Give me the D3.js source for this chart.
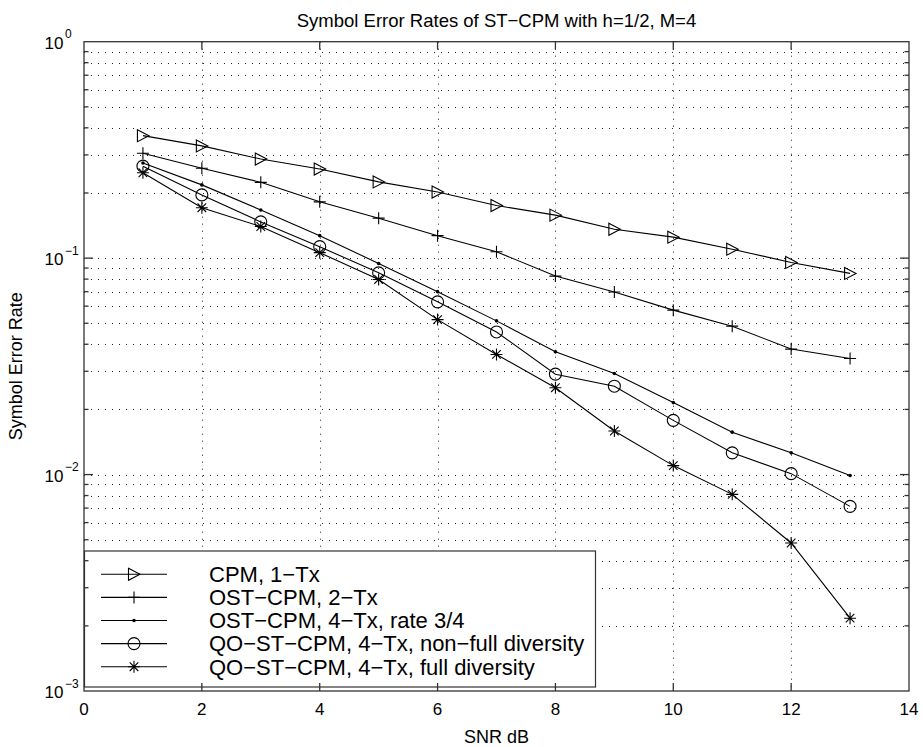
<!DOCTYPE html>
<html>
<head>
<meta charset="utf-8">
<script src="https://cdn.jsdelivr.net/npm/d3@7"></script>
<style>
  body { margin: 0; background: #fff; }
  text { font-family: "Liberation Sans", Arial, Helvetica, sans-serif; fill: #000; }
</style>
</head>
<body>
<script>
// data
const snr = [1, 2, 3, 4, 5, 6, 7, 8, 9, 10, 11, 12, 13];
const cpm1Tx   = [0.368, 0.330, 0.287, 0.258, 0.225, 0.202, 0.175, 0.158, 0.136, 0.125, 0.110, 0.0955, 0.085];
const ost2Tx   = [0.305, 0.260, 0.224, 0.182, 0.153, 0.127, 0.107, 0.0826, 0.0697, 0.0575, 0.0485, 0.0380, 0.0344];
const ost4Tx   = [0.275, 0.218, 0.167, 0.127, 0.0945, 0.070, 0.0513, 0.0369, 0.0293, 0.0215, 0.0157, 0.0126, 0.0099];
const qoNonFull = [0.266, 0.196, 0.147, 0.113, 0.0855, 0.0628, 0.0456, 0.0291, 0.0256, 0.0178, 0.0126, 0.0101, 0.00713];
const qoFull   = [0.248, 0.171, 0.140, 0.106, 0.0797, 0.052, 0.0359, 0.0252, 0.0159, 0.0110, 0.0081, 0.00483, 0.00217];

const seriesNames = [
  "CPM, 1\u2212Tx",
  "OST\u2212CPM, 2\u2212Tx",
  "OST\u2212CPM, 4\u2212Tx, rate 3/4",
  "QO\u2212ST\u2212CPM, 4\u2212Tx, non\u2212full diversity",
  "QO\u2212ST\u2212CPM, 4\u2212Tx, full diversity"
];
const seriesValues = [cpm1Tx, ost2Tx, ost4Tx, qoNonFull, qoFull];
const markerTypes = ["triangle", "plus", "dot", "circle", "star"];

const xTicks = [0, 2, 4, 6, 8, 10, 12, 14];
const yDecades = [1, 0.1, 0.01, 0.001];
const yExponents = ["0", "\u22121", "\u22122", "\u22123"];

const width = 923, height = 747;
const plotLeft = 84, plotRight = 909, plotTop = 41.7, plotBottom = 691;

const svg = d3.select("body").append("svg")
  .attr("width", width)
  .attr("height", height);

const x = d3.scaleLinear().domain([0, 14]).range([plotLeft, plotRight]);
const y = d3.scaleLog().domain([0.001, 1]).range([plotBottom, plotTop]);

// minor log positions 2..9 in each decade plus inner decades
const minorY = [];
[0.001, 0.01, 0.1].forEach(d => {
  for (let k = 2; k <= 9; k++) minorY.push(k * d);
});
const innerDecades = [0.1, 0.01];

// grid
const grid = svg.append("g")
  .attr("stroke", "#222")
  .attr("stroke-width", 1)
  .attr("stroke-dasharray", "1,6");

grid.selectAll(".vg")
  .data(xTicks.slice(1, -1))
  .enter().append("line")
  .attr("x1", d => Math.round(x(d)) + 0.5).attr("x2", d => Math.round(x(d)) + 0.5)
  .attr("y1", plotTop).attr("y2", plotBottom);

grid.selectAll(".hg")
  .data(minorY.concat(innerDecades))
  .enter().append("line")
  .attr("x1", plotLeft).attr("x2", plotRight)
  .attr("y1", d => Math.round(y(d)) + 0.5).attr("y2", d => Math.round(y(d)) + 0.5);

// marker shapes
const markerPath = {
  triangle: "M-5.5,-6L6,0L-5.5,6Z",
  plus: "M-6,0H6M0,-6V6",
  star: "M-6,0H6M0,-6V6M-4.3,-4.3L4.3,4.3M-4.3,4.3L4.3,-4.3"
};

function drawMarker(g, type) {
  if (type === "dot") {
    g.append("circle").attr("r", 1.8).attr("fill", "#000");
  } else if (type === "circle") {
    g.append("circle").attr("r", 6).attr("fill", "none").attr("stroke", "#000").attr("stroke-width", 1.1);
  } else {
    g.append("path").attr("d", markerPath[type])
      .attr("fill", "none").attr("stroke", "#000").attr("stroke-width", 1.1);
  }
}

const line = d3.line()
  .x((d, i) => x(snr[i]))
  .y(d => y(d));

seriesValues.forEach((vals, si) => {
  const g = svg.append("g");
  g.append("path")
    .attr("d", line(vals))
    .attr("fill", "none")
    .attr("stroke", "#000")
    .attr("stroke-width", 1.1);
  g.selectAll(".m")
    .data(vals)
    .enter().append("g")
    .attr("transform", (d, i) => `translate(${x(snr[i])},${y(d)})`)
    .each(function() { drawMarker(d3.select(this), markerTypes[si]); });
});

// legend
const legend = svg.append("g");
legend.append("rect")
  .attr("x", plotLeft + 0.5).attr("y", 551)
  .attr("width", 595 - plotLeft).attr("height", 136)
  .attr("fill", "#fff")
  .attr("stroke", "#333")
  .attr("stroke-width", 1.2);

const rowY = d3.scaleLinear().domain([0, 4]).range([574.3, 666.7]);
seriesNames.forEach((name, i) => {
  const row = legend.append("g").attr("transform", `translate(0,${rowY(i)})`);
  row.append("line")
    .attr("x1", 101).attr("x2", 167)
    .attr("stroke", "#000").attr("stroke-width", 1.1);
  drawMarker(row.append("g").attr("transform", "translate(134,0)"), markerTypes[i]);
  row.append("text")
    .attr("x", 209).attr("y", 7.8)
    .style("font-size", "22px")
    .text(name);
});

// axes box and inner ticks
const axes = svg.append("g").attr("stroke", "#333").attr("stroke-width", 1.3);
axes.append("rect")
  .attr("x", plotLeft).attr("y", plotTop)
  .attr("width", plotRight - plotLeft).attr("height", plotBottom - plotTop)
  .attr("fill", "none");

xTicks.slice(1, -1).forEach(t => {
  axes.append("line").attr("x1", x(t)).attr("x2", x(t)).attr("y1", plotBottom).attr("y2", plotBottom - 8);
  axes.append("line").attr("x1", x(t)).attr("x2", x(t)).attr("y1", plotTop).attr("y2", plotTop + 8);
});
innerDecades.forEach(t => {
  axes.append("line").attr("x1", plotLeft).attr("x2", plotLeft + 9).attr("y1", y(t)).attr("y2", y(t));
  axes.append("line").attr("x1", plotRight).attr("x2", plotRight - 9).attr("y1", y(t)).attr("y2", y(t));
});
minorY.forEach(t => {
  axes.append("line").attr("x1", plotLeft).attr("x2", plotLeft + 4.5).attr("y1", y(t)).attr("y2", y(t));
  axes.append("line").attr("x1", plotRight).attr("x2", plotRight - 4.5).attr("y1", y(t)).attr("y2", y(t));
});

// x tick labels
svg.selectAll(".xl")
  .data(xTicks)
  .enter().append("text")
  .attr("x", d => x(d))
  .attr("y", plotBottom + 23.5)
  .attr("text-anchor", "middle")
  .style("font-size", "17px")
  .text(d => d);

// y tick labels: "10" right-aligned, exponent placed after it
yDecades.forEach((d, i) => {
  svg.append("text")
    .attr("x", 63.5)
    .attr("y", y(d) + 7.3)
    .attr("text-anchor", "end")
    .style("font-size", "17px")
    .text("10");
  svg.append("text")
    .attr("x", 65)
    .attr("y", y(d) - 3.5)
    .style("font-size", "12px")
    .text(yExponents[i]);
});

// title and axis labels
svg.append("text")
  .attr("x", (plotLeft + plotRight) / 2).attr("y", 27)
  .attr("text-anchor", "middle")
  .style("font-size", "18.5px")
  .text("Symbol Error Rates of ST\u2212CPM with h=1/2, M=4");

svg.append("text")
  .attr("x", (plotLeft + plotRight) / 2).attr("y", 743)
  .attr("text-anchor", "middle")
  .style("font-size", "18px")
  .text("SNR dB");

svg.append("text")
  .attr("transform", `translate(22,${(plotTop + plotBottom) / 2}) rotate(-90)`)
  .attr("text-anchor", "middle")
  .style("font-size", "18px")
  .text("Symbol Error Rate");
</script>
</body>
</html>
